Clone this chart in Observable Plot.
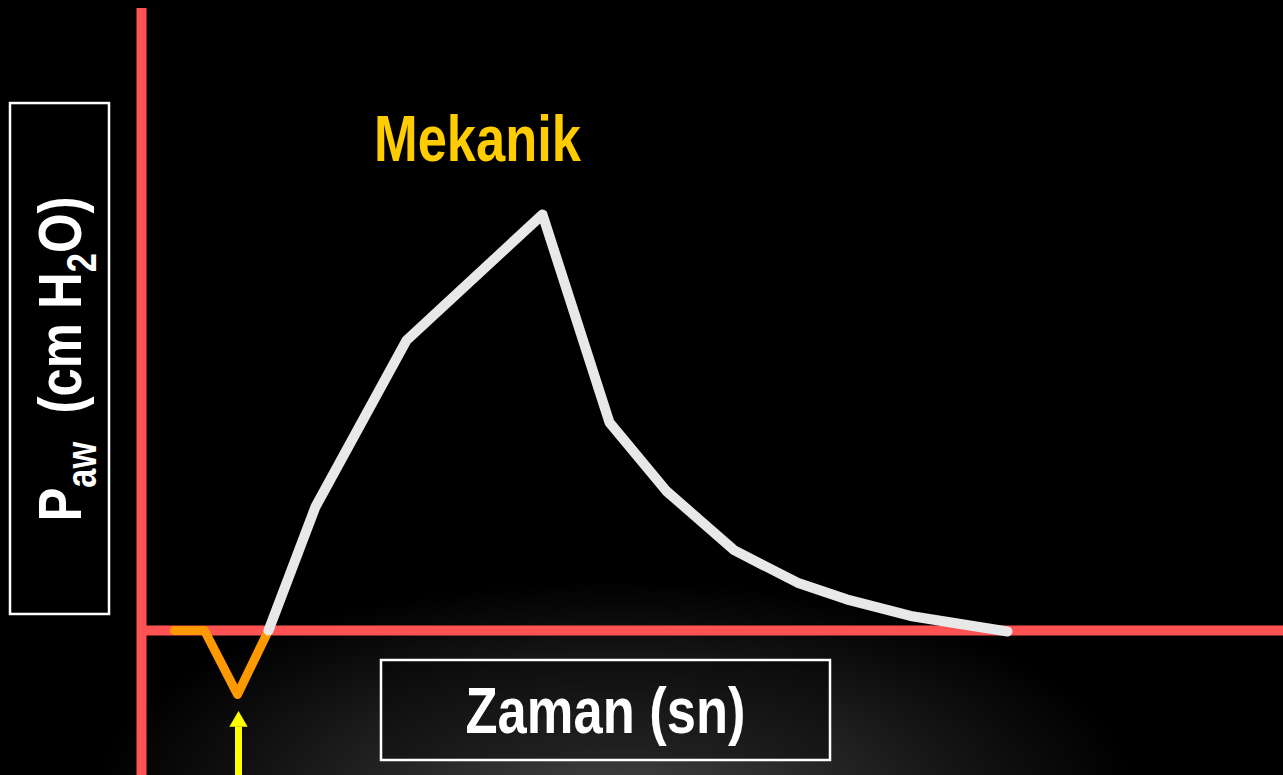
<!DOCTYPE html>
<html>
<head>
<meta charset="utf-8">
<script src="https://cdn.jsdelivr.net/npm/d3@7"></script>
<script src="https://cdn.jsdelivr.net/npm/@observablehq/plot@0.6"></script>
<style>
  html, body { margin: 0; padding: 0; overflow: hidden; }
  body {
    width: 1283px; height: 775px;
    background: radial-gradient(ellipse 520px 215px at 615px 795px, #404040 0%, #2a2a2a 35%, #121212 70%, #000 100%), #000;
  }
  #chart svg { display: block; }
</style>
</head>
<body>
<div id="chart"></div>
<script>
// Mechanical breath airway pressure curve (time in s, pressure in cm H2O)
const breathTime = [0.3175, 0.435, 0.6625, 1.0025, 1.17, 1.3125, 1.4825, 1.64, 1.7625, 1.9225, 2.165];
const breathPaw  = [0, 11.9, 27.9, 40, 20, 13.4, 7.7, 4.6, 3.0, 1.4, -0.1];

// Patient trigger (negative deflection) preceding the breath
const triggerTime = [0.0825, 0.1575, 0.24, 0.3175];
const triggerPaw  = [0, 0, -6.15, 0];

// Labels
const yLabelParts = [
  {text: "P", sub: false},
  {text: "aw", sub: true},
  {text: "  (cm H", sub: false},
  {text: "2", sub: true},
  {text: "O)", sub: false}
];
const yLabel = yLabelParts.map(d => d.text).join("");
const xLabel = "Zaman (sn)";
const modeLabel = "Mekanik";

const breath = breathTime.map((t, i) => ({t, p: breathPaw[i]}));
const trigger = triggerTime.map((t, i) => ({t, p: triggerPaw[i]}));

const RED = "#ff5252";
const FONT = "'Liberation Sans', Arial, sans-serif";
const NARROW = 0.82; // Arial Narrow look
const SUB_SHIFT = 15, SUB_SIZE = 42, MAIN_SIZE = 62;

// condense text horizontally (along its reading direction)
function narrow(g) {
  d3.select(g).selectAll("text").each(function() {
    const t = d3.select(this);
    const tf = t.attr("transform");
    t.attr("transform", (tf ? tf + " " : "") + `scale(${NARROW},1)`);
  });
  return g;
}

const chart = Plot.plot({
  width: 1283,
  height: 775,
  marginLeft: 141,
  marginRight: 0,
  marginTop: 6,
  marginBottom: 41,
  x: {domain: [0, 2.855], axis: null},
  y: {domain: [-10, 60], axis: null},
  style: {background: "transparent", overflow: "visible"},
  marks: [
    // label boxes
    Plot.rect([{x1: -0.3275, x2: -0.08, y1: 1.54, y2: 50.67}], {
      x1: "x1", x2: "x2", y1: "y1", y2: "y2", fill: "black", stroke: "white", strokeWidth: 2.5
    }),
    Plot.rect([{x1: 0.6, x2: 1.7225, y1: -12.5, y2: -2.885}], {
      x1: "x1", x2: "x2", y1: "y1", y2: "y2", fill: "black", fillOpacity: 0.35, stroke: "white", strokeWidth: 2.5
    }),
    // axes
    Plot.ruleY([0], {x1: 0, x2: 2.855, stroke: RED, strokeWidth: 10}),
    Plot.ruleX([0], {y1: -14, y2: 59.8, stroke: RED, strokeWidth: 10}),
    // trigger
    Plot.line(trigger, {x: "t", y: "p", stroke: "#ff9900", strokeWidth: 9, strokeLinecap: "round", strokeLinejoin: "round"}),
    // breath
    Plot.line(breath, {x: "t", y: "p", stroke: "#e8e8e8", strokeWidth: 10, strokeLinecap: "round", strokeLinejoin: "round"}),
    // trigger arrow
    Plot.ruleX([triggerTime[2]], {y1: -14.2, y2: -9.3, stroke: "#ffff00", strokeWidth: 7, dx: 1}),
    Plot.dot([triggerTime[2]], {x: d => d, y: -8.75, symbol: "triangle", r: 6.8, fill: "#ffff00", stroke: "none", dx: 1}),
    // texts
    Plot.text([modeLabel], {x: 0.84, y: 47.16, text: d => d, fill: "#ffcc00", fontSize: 64, fontWeight: "bold", fontFamily: FONT,
      render(i, s, v, d, c, next) { return narrow(next(i, s, v, d, c)); }}),
    Plot.text([xLabel], {x: 1.16, y: -7.93, text: d => d, fill: "white", fontSize: 64, fontWeight: "bold", fontFamily: FONT,
      render(i, s, v, d, c, next) { return narrow(next(i, s, v, d, c)); }}),
    Plot.text([yLabel], {
      x: -0.2, y: 26.1, text: d => d, rotate: -90, fill: "white", fontSize: MAIN_SIZE, fontWeight: "bold", fontFamily: FONT,
      render(index, scales, values, dimensions, context, next) {
        const g = next(index, scales, values, dimensions, context);
        d3.select(g).selectAll("text").each(function() {
          const t = d3.select(this);
          t.text(null);
          let shifted = 0;
          yLabelParts.forEach(part => {
            const span = t.append("tspan").text(part.text);
            const target = part.sub ? SUB_SHIFT : 0;
            if (target !== shifted) { span.attr("dy", target - shifted); shifted = target; }
            if (part.sub) span.attr("font-size", SUB_SIZE);
          });
        });
        return narrow(g);
      }
    })
  ]
});
document.getElementById("chart").append(chart);
</script>
</body>
</html>
